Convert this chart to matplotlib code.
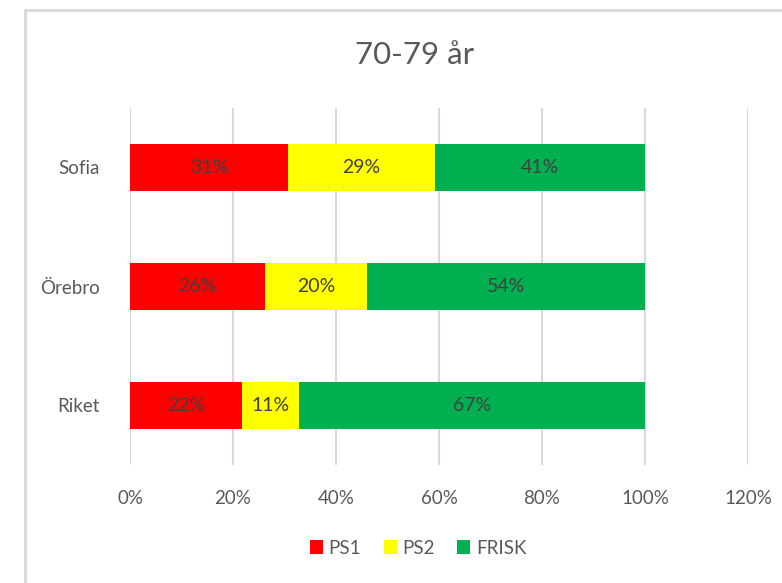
import matplotlib
matplotlib.use("Agg")
import matplotlib.pyplot as plt
from matplotlib.patches import Rectangle
from matplotlib.ticker import FuncFormatter

categories = ["Riket", "Örebro", "Sofia"]
series_names = ["PS1", "PS2", "FRISK"]
ps1 = [0.217, 0.262, 0.306]
ps2 = [0.112, 0.198, 0.286]
frisk = [0.671, 0.540, 0.408]
colors = ["#FF0000", "#FFFF00", "#00B050"]
title = "70-79 år"
xticks = [0, 0.2, 0.4, 0.6, 0.8, 1.0, 1.2]

plt.rcParams['font.family'] = ['Lato', 'DejaVu Sans']
txt = "#595959"

fig = plt.figure(figsize=(7.82, 5.83), dpi=100)
fig.patches.append(Rectangle((25/782, -0.1), 1.2, 1 - 10/583 + 0.1, transform=fig.transFigure,
                             fill=False, edgecolor="#D9D9D9", linewidth=2))
ax = fig.add_axes([130/782, 1 - 465/583, (748 - 130)/782, (465 - 108)/583])

y = list(range(len(categories)))
left = [0] * len(categories)
for name, vals, c in zip(series_names, [ps1, ps2, frisk], colors):
    bars = ax.barh(y, vals, left=left, height=0.4, color=c, label=name, zorder=3)
    for yi, l, v in zip(y, left, vals):
        ax.text(l + v / 2, yi, f"{v*100:.0f}%", ha="center", va="center",
                fontsize=14, color="#404040", zorder=4)
    left = [a + b for a, b in zip(left, vals)]

ax.set_xlim(0, 1.2)
ax.set_ylim(-0.5, 2.5)
ax.set_xticks(xticks)
ax.xaxis.set_major_formatter(FuncFormatter(lambda v, p: f"{v*100:.0f}%"))
ax.set_yticks(y)
ax.set_yticklabels(categories)
ax.grid(axis="x", color="#D9D9D9", linewidth=1.5, zorder=0)
for s in ax.spines.values():
    s.set_visible(False)
ax.tick_params(length=0, labelsize=13.5, labelcolor=txt)
ax.tick_params(axis="x", pad=18)
ax.tick_params(axis="y", pad=22)

fig.text(415/782, 1 - 55/583, title, ha="center", va="center", fontsize=22.5, color=txt)
fig.legend(loc="center", bbox_to_anchor=(418/782, 1 - 548/583), ncol=3, frameon=False,
           fontsize=13.5, labelcolor=txt, handlelength=0.7, handleheight=0.7,
           handletextpad=0.3, columnspacing=1.2)

fig.savefig("out.png", dpi=100, facecolor="white")
